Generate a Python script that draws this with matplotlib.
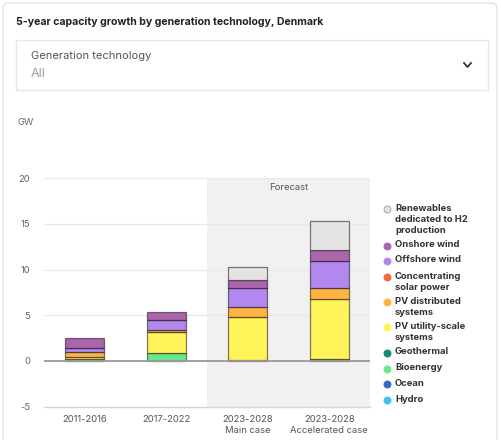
import numpy as np
import matplotlib.pyplot as plt
from matplotlib.patches import Rectangle, FancyBboxPatch
from matplotlib.lines import Line2D

plt.rcParams['font.family'] = ['Inter', 'DejaVu Sans']
plt.rcParams['axes.unicode_minus'] = False

# data (GW), stacked bottom -> top
categories = ['2011-2016', '2017-2022', '2023-2028\nMain case', '2023-2028\nAccelerated case']
hydro = [0, 0, 0, 0]
ocean = [0, 0, 0, 0]
bioenergy = [0.22, 0.88, 0.05, 0.15]
geothermal = [0, 0, 0, 0]
pv_utility = [0.22, 2.23, 4.72, 6.58]
pv_distributed = [0.55, 0.29, 1.17, 1.24]
csp = [0, 0, 0, 0]
offshore = [0.44, 1.06, 2.01, 2.92]
onshore = [1.10, 0.84, 0.88, 1.28]
h2 = [0, 0, 1.43, 3.18]

series = [
    ('Hydro', hydro, '#3cc3ec'),
    ('Ocean', ocean, '#3a66c9'),
    ('Bioenergy', bioenergy, '#66e88c'),
    ('Geothermal', geothermal, '#0f8b7a'),
    ('PV utility-scale\nsystems', pv_utility, '#fff35a'),
    ('PV distributed\nsystems', pv_distributed, '#ffb340'),
    ('Concentrating\nsolar power', csp, '#f4683c'),
    ('Offshore wind', offshore, '#b287ee'),
    ('Onshore wind', onshore, '#ab65ab'),
    ('Renewables\ndedicated to H2\nproduction', h2, '#e4e4e4'),
]

W, H = 501, 440
fig = plt.figure(figsize=(W / 100, H / 100), dpi=100)
fig.patch.set_facecolor('white')

def fx(px):
    return px / W

def fy(py):
    return 1 - py / H

# card and dropdown
card = FancyBboxPatch((fx(3), fy(445)), fx(494), 442 / H,
                      boxstyle='round,pad=0,rounding_size=0.012',
                      transform=fig.transFigure, fc='white', ec='#e4e4e4', lw=1, zorder=-5)
fig.add_artist(card)
fig.text(fx(16), fy(22), '5-year capacity growth by generation technology, Denmark',
         fontsize=7.6, fontweight='bold', color='#222222', va='center')
fig.add_artist(Rectangle((fx(16), fy(90)), fx(472), 50 / H, transform=fig.transFigure,
                         fc='white', ec='#e6e6e6', lw=1, zorder=-4))
fig.text(fx(31), fy(56), 'Generation technology', fontsize=8, color='#555555', va='center')
fig.text(fx(31), fy(74), 'All', fontsize=9, color='#9a9a9a', va='center')
fig.add_artist(Line2D([fx(464), fx(467.5), fx(471)], [fy(63), fy(67), fy(63)],
                      transform=fig.transFigure, color='#333333', lw=1.3))
fig.text(fx(17), fy(122), 'GW', fontsize=6.8, color='#666666', va='center')

# plot area
ax = fig.add_axes([fx(44), fy(406.5), fx(326), (406.5 - 178.3) / H])
ax.set_zorder(2)
ax.set_facecolor('none')
x = np.arange(len(categories))
ax.set_xlim(-0.5, 3.5)
ax.set_ylim(-5, 20)

ax.axvspan(1.5, 3.5, color='#f1f1f1', zorder=0, lw=0)
for v in [5, 10, 15, 20]:
    ax.axhline(v, color='#e8e8e8', lw=0.9, zorder=1)
ax.axhline(0, color='#999999', lw=1.3, zorder=4)

bottom = np.zeros(len(categories))
for name, vals, col in series:
    vals = np.array(vals, dtype=float)
    mask = vals > 0
    ax.bar(x[mask], vals[mask], width=0.48, bottom=bottom[mask], color=col,
           edgecolor=(0, 0, 0, 0.5), linewidth=0.9, zorder=3)
    bottom += vals

ax.text(2.5, 19.0, 'Forecast', ha='center', va='center', fontsize=6.8, color='#555555')

ax.set_yticks([-5, 0, 5, 10, 15, 20])
ax.set_xticks(x)
ax.set_xticklabels(categories, fontsize=6.8, color='#555555', linespacing=1.35)
ax.tick_params(axis='y', length=0, labelsize=6.8, labelcolor='#666666', pad=10)
ax.tick_params(axis='x', length=0, pad=6)
for s in ['top', 'right', 'left']:
    ax.spines[s].set_visible(False)
ax.spines['bottom'].set_color('#cdd8e4')
ax.spines['bottom'].set_linewidth(1)

# legend
legend_rows = [209, 245.5, 261, 277, 302, 327, 352.5, 368.5, 384, 400]
for (name, vals, col), yy in zip(reversed(series), legend_rows):
    ec = '#aaaaaa' if col == '#e4e4e4' else col
    fig.add_artist(Line2D([fx(387.3)], [fy(yy)], marker='o', markersize=5,
                          markerfacecolor=col, markeredgecolor=ec, markeredgewidth=0.7,
                          transform=fig.transFigure))
    fig.text(fx(395), fy(yy - 5.5), name, fontsize=6.8, fontweight='bold', color='#333333',
             va='top', ha='left', linespacing=1.35)

fig.savefig('out.png', dpi=100, facecolor='white')
